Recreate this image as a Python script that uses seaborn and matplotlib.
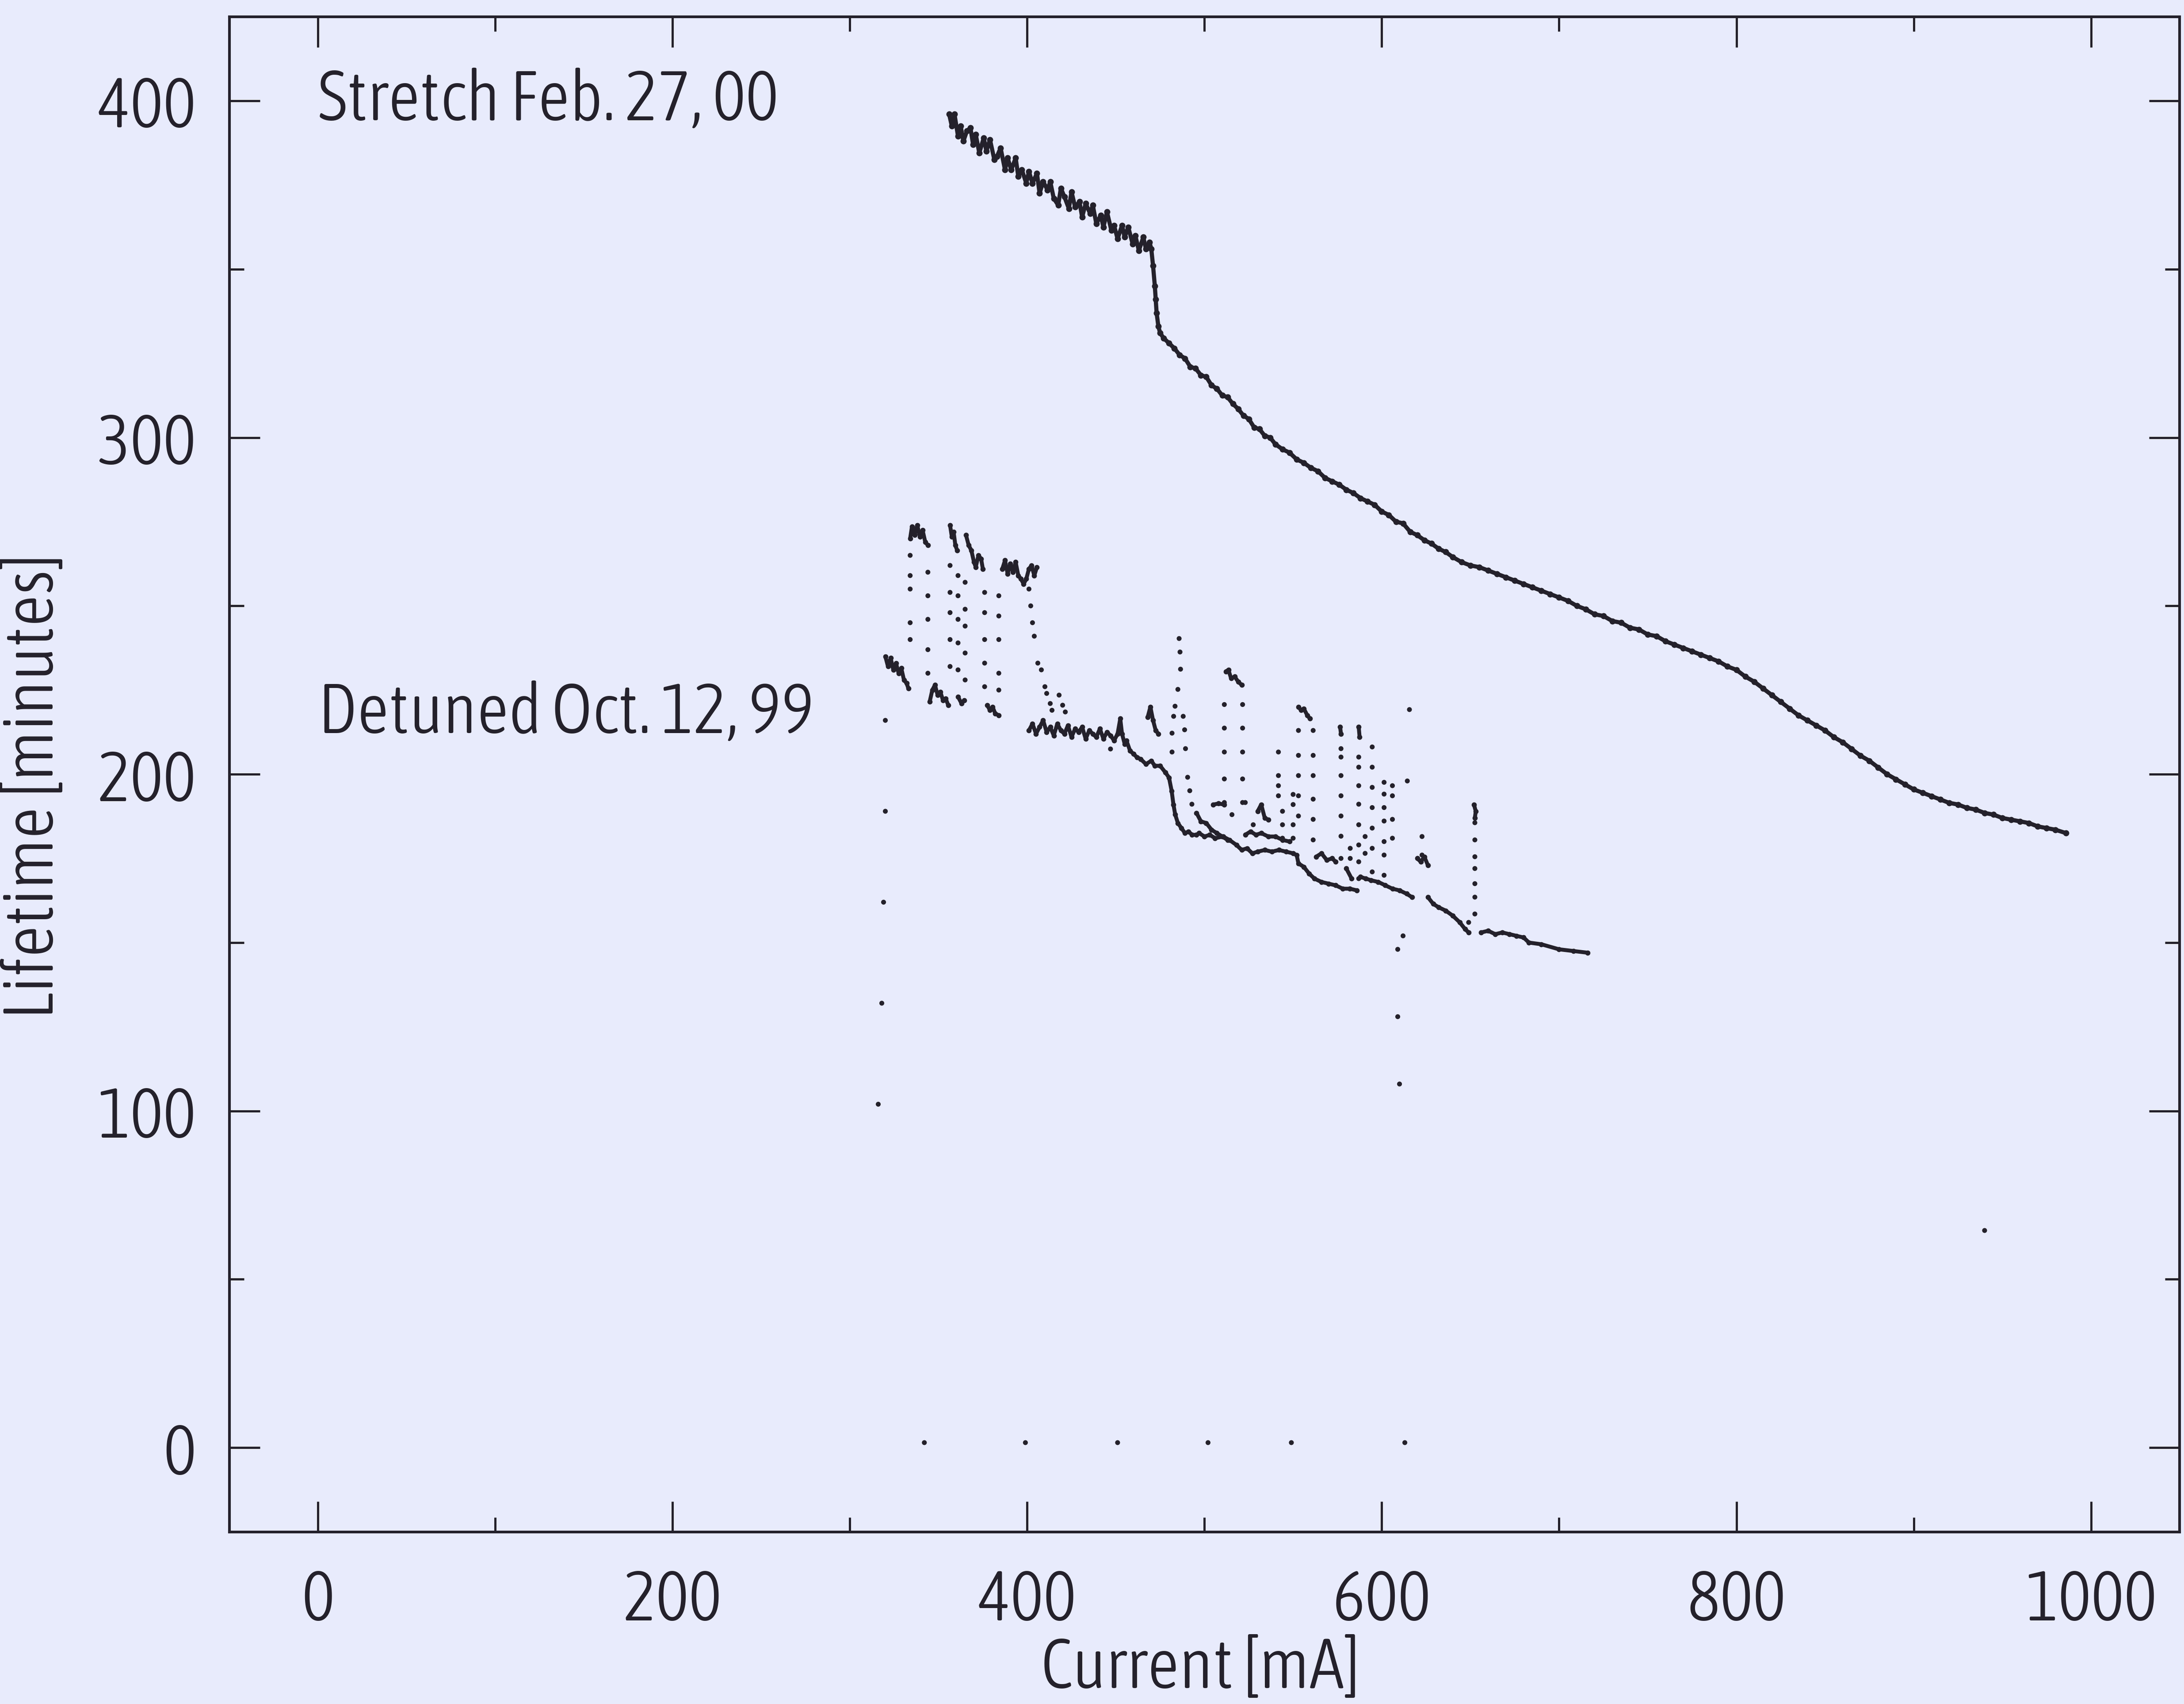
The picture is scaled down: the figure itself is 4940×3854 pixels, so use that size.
import os
import numpy as np
import pandas as pd
import matplotlib
matplotlib.use("Agg")
import matplotlib.pyplot as plt
from matplotlib import font_manager as fm
from matplotlib.font_manager import FontProperties
from matplotlib.textpath import TextToPath
from matplotlib.ticker import MultipleLocator
import seaborn as sns

# ---- Stretch run (Feb. 27, 00): lifetime [min] vs beam current [mA] ----
stretch_current = [
    356, 357.5, 359, 361, 362.5, 364, 366, 368, 369.5, 371,
    373, 375.5, 377, 379, 381.5, 383, 385, 387.5, 389, 391,
    393.5, 395, 397, 399.5, 401, 403, 405.5, 407, 409, 411.5,
    413, 415, 417.5, 419, 421, 423.5, 425, 427, 429.5, 431,
    433, 435.5, 437, 439, 441.5, 443, 445, 447.5, 449, 451,
    453.5, 455, 457, 459.5, 461, 463, 465.5, 467, 469, 470,
    471, 472, 472.5, 473, 474, 475, 477, 480, 483, 486, 489, 492, 495, 498, 501,
    504, 507, 510, 513, 516, 519, 522, 525, 528, 531, 534, 537, 540, 544, 548,
    552, 556, 560, 564, 568, 572, 576, 580, 584, 588, 592, 596, 600, 604, 608,
    612, 616, 620, 624, 628, 632, 636, 640, 645, 650, 655, 660, 665, 670, 675,
    680, 685, 690, 695, 700, 705, 710, 715, 720, 725, 730, 735, 740, 745, 750,
    755, 760, 765, 770, 775, 780, 785, 790, 795, 800, 805, 810, 815, 820, 825,
    830, 835, 840, 845, 850, 855, 860, 865, 870, 875, 880, 885, 890, 895, 900,
    905, 910, 915, 920, 925, 930, 935, 940, 945, 950, 955, 960, 965, 970, 975,
    980, 986,
]
stretch_lifetime = [
    396, 392.5, 396, 389.5, 392.5, 388, 391, 392, 387, 390,
    384.5, 389, 385, 388.5, 382.5, 383.5, 386, 379.5, 383, 379.5,
    383, 377.5, 379.5, 375.5, 379, 375.5, 378.5, 372.5, 376, 373.5,
    376, 371, 369, 374, 371.5, 368, 373, 368.5, 370, 365.5,
    369.5, 366.5, 369, 363.5, 366, 362.5, 367, 361.5, 363, 359,
    363, 359.5, 362.5, 357.5, 360, 355.5, 359.5, 356, 358, 356,
    351, 345, 341, 337, 333, 331, 329.5, 328, 326.5, 324.5, 323.5, 321, 320.5, 318.5, 318,
    315.5, 314.5, 312.5, 312, 310, 308.5, 306.5, 305.5, 303, 302.5, 300.5, 300, 298, 296.5, 295.5,
    293.5, 292.5, 291, 290, 288, 287, 286, 284.5, 283.5, 282, 281, 280, 278, 277, 275,
    274.5, 272, 271, 269.5, 268.5, 267, 266, 264.5, 263, 262, 261.5, 260.5, 259.5, 258.5, 257.5,
    256.5, 255.5, 254.5, 253.5, 252.5, 251.5, 250, 249, 247.5, 247, 245.5, 245, 243.5, 243, 241.5,
    241, 239.5, 238.5, 237.5, 236.5, 235.5, 234.5, 233.5, 232, 231, 229, 227.5, 225.5, 223.5, 221.5,
    219.5, 217.5, 216, 214.5, 213, 211, 209.5, 207.5, 205.5, 204, 202, 200, 198.5, 197, 195.5,
    194.5, 193.5, 192.5, 191.5, 191, 190, 189.5, 188.5, 188, 187, 186.5, 186, 185.5, 184.5, 184,
    183.5, 182.5,
]

# ---- Detuned run (Oct. 12, 99): continuous trace pieces, NaN separates pieces ----
nan = float("nan")
detuned_trace_current = [
    320, 321.5, 323, 324.5, 326, 327.5, 329, 330.5, 332, 333, nan,
    334, 335, 336.5, 338, 339.5, 341, 342.5, 344, nan,
    345, 346.5, 348, 349.5, 351, 352.5, 354, 355.5, nan,
    356.5, 357.5, 358.5, 359.5, 360.5, nan,
    361, 363, 364.5, nan,
    365.5, 367, 368.5, 370, 371, 372.5, 374, 375, nan,
    377.5, 379, 380.5, 382, 384, nan,
    386, 387.5, 389, 390.5, 392, 393.5, 395, 396.5, 398, 399.5, 401, 402.5, 404, 405.5, nan,
    401, 403, 405, 407, 409, 411, 413, 415, 417, 419, 421, 423, 425, 427, 429, 431, 433,
    435, 437, 439, 441, 443, 445, 447, 449, 451, 452.5, 453.5, 455, 456, 458, 460, 462,
    464, 467, 470, 472, 475, 478, 480, 481.5, 482.5, 483.5, 485, 487, 489, 491, 493, 495.5,
    497, 500, 503, 506, 510.5, 514, 518, 521, 524, 527, 530, 534, 538, 542, 546, 550, 552,
    553, 556, 559, 562, 566, 570, 574, 578, 582, 586, nan,
    588, 591, 594, 598, 602, 606, 610, 614, 617, nan,
    626, 629, 632, 636, 640, 644, 647, 649, nan,
    656, 660, 664, 668, 672, 676, 680, 683, 690, 700, 708, 716, nan,
    495.5, 498, 501, 504, 507, 510, 513, nan,
    505, 508, 511, nan,
    523, 526, 529, 532, 536, 540, 544, 548, nan,
    530, 532, 534, 536, nan,
    563, 566, 569, 572, 574, nan,
    580, 583, nan,
    620, 622, 624, 626, nan,
    468, 469.5, 471, 472.5, 474, nan,
    512, 513.5, 515, 517, 519, 521, nan,
    553, 554.5, 556, 558, 559.5, nan,
    576.5, 577, nan,
    587, 587.5, nan,
    652, 653, 652.5,
]
detuned_trace_lifetime = [
    235, 232, 234.5, 231, 233, 230, 231.5, 228, 227, 225.5, nan,
    270, 273.5, 271, 274, 270.5, 272.5, 269, 268, nan,
    221.5, 225, 226.5, 223.5, 224.5, 222, 222.5, 220.5, nan,
    274, 270.5, 272, 268, 266.5, nan,
    223, 221, 222, nan,
    271, 268, 266.5, 263, 261.5, 265, 264, 261, nan,
    220.5, 219, 220, 218, 217.5, nan,
    261, 263.5, 259.5, 262.5, 260, 263, 259, 258, 256.5, 258, 261, 262, 259, 261.5, nan,
    213, 215, 212, 214, 216, 212.5, 214, 211.5, 215, 213, 212, 214.5, 211, 213.5, 212.5, 214, 210.5,
    213, 212, 211, 213.5, 210.5, 212.5, 211.5, 210, 212, 216.5, 212, 209, 210, 207, 206, 205,
    204.5, 203, 204, 202.5, 202.5, 200.5, 199, 195, 191, 188, 185.5, 184, 182.5, 183, 182, 182,
    182.5, 181.5, 182, 181, 181.5, 180.5, 179, 177.5, 178, 176.5, 177, 177.5, 177, 177.5, 177, 176.5, 176,
    173.5, 172.5, 170.5, 169, 168, 167.5, 167, 166, 166, 165.5, nan,
    169.5, 169, 168.5, 168, 167, 166, 165.5, 164.5, 163.5, nan,
    163.5, 161.5, 160.5, 159.5, 158, 156, 154, 153, nan,
    153, 153.5, 152.5, 153, 152.5, 152, 151.5, 150, 149.5, 148, 147.5, 147, nan,
    188.5, 186, 185.5, 183.5, 182.5, 181.5, 180.5, nan,
    191, 191.3, 191, nan,
    182, 183, 182, 182.5, 181.5, 181.5, 180.5, 180, nan,
    189, 191, 187, 186.5, nan,
    175.5, 176.5, 174.5, 175, 174, nan,
    172, 169, nan,
    175, 174, 175.5, 173, nan,
    217, 220, 216, 213, 212, nan,
    230.5, 231, 228.5, 229, 227.5, 226.5, nan,
    220, 219, 219.5, 217.5, 216.5, nan,
    214, 212, nan,
    214, 211, nan,
    191, 189, 187,
]

# ---- Detuned run: isolated samples (jumps between lifetime levels, outliers) ----
detuned_dots_current = [
    334, 334, 334, 334, 334,
    344, 344, 344, 344, 344,
    356.5, 356.5, 356.5, 356.5, 356.5,
    361, 361, 361, 361, 361,
    365, 365, 365, 365, 365,
    376, 376, 376, 376, 376,
    384, 384, 384, 384, 384,
    401, 402, 403, 404, 406, 408, 410, 411, 413, 414,
    418, 420, 421.5, 447,
    485.7, 486.2, 486.5, 485, 483.4, 482.6, 481.7, 481.7,
    488, 488.8, 489.3, 490.5, 491.7, 492.9,
    511.2, 511.2, 511.2, 511.2, 511.2,
    521.5, 521.5, 521.5, 521.5, 521.5,
    515.5, 523, 527.5,
    541.7, 541.7, 541.7, 541.7,
    544, 544, 544,
    550, 550, 550, 550,
    553, 553, 553, 553, 553,
    561.3, 561.3, 561.3, 561.3, 561.3, 561.3,
    577, 577, 577, 577, 577, 577, 577,
    587, 587, 587, 587, 587, 587, 587, 587,
    594.6, 594.6, 594.6, 594.6, 594.6, 594.6, 594.6,
    601.3, 601.3, 601.3, 601.3, 601.3, 601.3, 601.3,
    606, 606, 606, 606,
    582.2, 582.2, 590.6, 590.6,
    614.4, 615.6, 622.7, 622.7,
    652.5, 652.5, 652.5, 652.5, 652.5, 652.5, 652.5, 649,
    320, 320, 319, 318, 316,
    612, 609, 609, 610,
    940,
    342, 399, 451, 502, 549, 613,
]
detuned_dots_lifetime = [
    265, 259, 255, 245, 240,
    260, 253, 246, 237, 230,
    262, 254, 248, 240, 232,
    259, 253, 246, 239, 231,
    257, 249, 244, 236, 228,
    254, 248, 240, 233, 226,
    253, 247, 240, 230, 225,
    255, 250, 245, 241, 233, 231, 226, 224, 221, 219,
    223.5, 220.5, 218.5, 207.5,
    240.3, 236.3, 231.2, 225.2, 220.2, 217.2, 212.2, 206.6,
    217.2, 213.2, 207.6, 199.1, 195.1, 191.1,
    220.7, 213.7, 206.6, 198.6, 191.6,
    220.7, 213.7, 206.6, 198.6, 191.6,
    188, 191.6, 185,
    206.6, 199.6, 196.6, 193.6,
    189, 185, 181,
    194, 191, 185, 181,
    213, 205.6, 199.6, 193.6, 187.6,
    213, 205.6, 199.6, 192.6, 186.6, 180.5,
    207.6, 205.1, 199.6, 193.6, 187.6, 181.6, 175,
    205.1, 202.1, 196.6, 191.1, 185, 179, 174, 169,
    208.1, 202.1, 196.1, 190.1, 184, 178, 171,
    197.6, 194.1, 190.1, 186.1, 180, 176, 170,
    196.6, 193.6, 186.6, 181,
    178, 175, 181.5, 176.5,
    198, 219.2, 181.5, 176,
    185.6, 180.5, 175.5, 172, 167.5, 163.5, 158.5, 156,
    216, 189, 162, 132, 102,
    152, 148, 128, 108,
    64.5,
    1.5, 1.5, 1.5, 1.5, 1.5, 1.5,
]

# ---- axis ticks and annotations ----
x_major_ticks = [0, 200, 400, 600, 800, 1000]
y_major_ticks = [0, 100, 200, 300, 400]
x_label = "Current [mA]"
y_label = "Lifetime [minutes]"

PAPER = "#e8ebfc"
INK = "#24212b"


def narrow_font_file():
    """Pick a narrow (ideally monospaced, light) face among the installed fonts."""
    best, best_rank = None, None
    for entry in fm.fontManager.ttflist:
        name = os.path.basename(entry.fname).lower()
        if any(k in name for k in ("italic", "oblique", "bold", "black", "medium",
                                   "semibold", "thin", "extralight", "heavy")):
            continue
        if "semicondensed" in name:
            width = 2
        elif "extracondensed" in name or "ultracondensed" in name:
            width = 1
        elif "condensed" in name or "narrow" in name:
            width = 0
        else:
            continue
        rank = (0 if "mono" in name else 1, width, 0 if "light" in name else 1, name)
        if best_rank is None or rank < best_rank:
            best, best_rank = entry.fname, rank
    return best


font_file = narrow_font_file()
if font_file is not None:
    base_font = FontProperties(fname=font_file)
    monospaced = "mono" in os.path.basename(font_file).lower()
else:
    base_font = FontProperties(family="DejaVu Sans Mono")
    monospaced = True

# size the face so that one digit advance is ~26 pt, capped by glyph height
probe = base_font.copy()
probe.set_size(100)
digits_w = TextToPath().get_text_width_height_descent("00000", probe, ismath=False)[0]
size = 100 * 25.9 / (digits_w / 5.0)
size = min(size * 1.04, 57)
label_font = base_font.copy()
label_font.set_size(size)

if monospaced:
    stretch_label = "Stretch Feb.27,00"
    detuned_label = "Detuned Oct.12,99"
else:
    stretch_label = "Stretch Feb. 27, 00"
    detuned_label = "Detuned Oct. 12, 99"

sns.set_theme(style="ticks")
plt.rcParams["font.family"] = ["DejaVu Sans"]
plt.rcParams["text.color"] = INK
plt.rcParams["axes.labelcolor"] = INK
plt.rcParams["xtick.color"] = INK
plt.rcParams["ytick.color"] = INK

fig = plt.figure(figsize=(24.7, 19.275), dpi=200, facecolor=PAPER)
ax = fig.add_axes([0.105, 0.101, 0.893, 0.889])
ax.set_facecolor(PAPER)

stretch = pd.DataFrame({"current": stretch_current, "lifetime": stretch_lifetime})
sns.lineplot(data=stretch, x="current", y="lifetime", sort=False, estimator=None,
             color=INK, linewidth=3.4, marker="o", markersize=5.0,
             markeredgewidth=0, ax=ax)

trace = pd.DataFrame({"current": detuned_trace_current, "lifetime": detuned_trace_lifetime})
trace["piece"] = trace["current"].isna().cumsum()
trace = trace.dropna()
sns.lineplot(data=trace, x="current", y="lifetime", units="piece", estimator=None,
             sort=False, color=INK, linewidth=3.2, marker="o", markersize=4.2,
             markeredgewidth=0, ax=ax)

dots = pd.DataFrame({"current": detuned_dots_current, "lifetime": detuned_dots_lifetime})
sns.scatterplot(data=dots, x="current", y="lifetime", color=INK, s=16,
                edgecolor="none", ax=ax)

ax.set_xlim(-50, 1050)
ax.set_ylim(-25, 425)
ax.set_xticks(x_major_ticks)
ax.set_yticks(y_major_ticks)
ax.xaxis.set_minor_locator(MultipleLocator(100))
ax.yaxis.set_minor_locator(MultipleLocator(50))
ax.tick_params(which="both", direction="in", top=True, right=True, width=1.8)
ax.tick_params(which="major", length=25)
ax.tick_params(which="minor", length=12)
ax.tick_params(axis="y", which="major", pad=27)
ax.tick_params(axis="x", which="major", pad=29)
for lab in ax.get_xticklabels() + ax.get_yticklabels():
    lab.set_fontproperties(label_font)
for side in ax.spines.values():
    side.set_visible(True)
    side.set_linewidth(2.2)
    side.set_color(INK)

ax.set_xlabel(x_label, fontproperties=label_font)
ax.set_ylabel(y_label, fontproperties=label_font)
ax.xaxis.set_label_coords(0.498, -0.068)
ax.yaxis.set_label_coords(-0.083, 0.492)

ax.text(0, 400, stretch_label, fontproperties=label_font, ha="left", va="center")
ax.text(0, 218, detuned_label, fontproperties=label_font, ha="left", va="center")

fig.savefig("out.png", dpi=200, facecolor=PAPER)
